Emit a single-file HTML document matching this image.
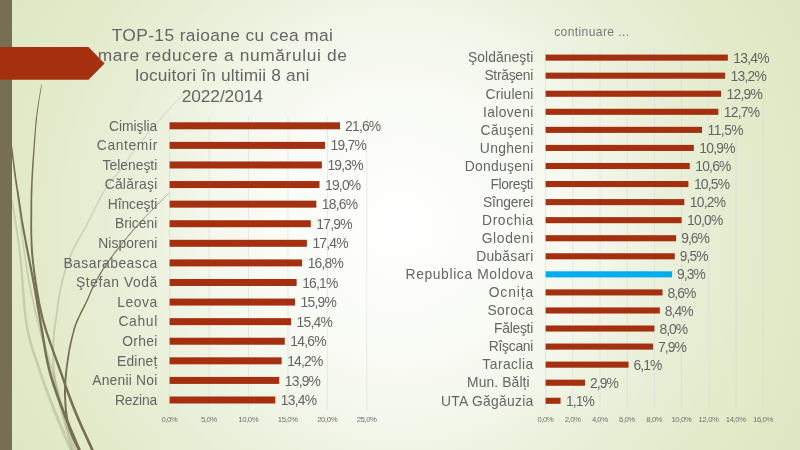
<!DOCTYPE html>
<html lang="ro"><head><meta charset="utf-8"><title>TOP-15 raioane</title>
<style>
html,body{margin:0;padding:0;}
body{width:800px;height:450px;overflow:hidden;background:#e0e8c6;}
#slide{position:absolute;left:0;top:0;width:800px;height:450px;background:radial-gradient(circle 459px at 400px 225px,#ffffff 0%,#fafcf6 26%,#f4f7ec 42.5%,#f0f4e4 49%,#e8eed6 64%,#e2eac8 83%,#dee8c5 100%);}
svg{position:absolute;left:0;top:0;font-family:"Liberation Sans","DejaVu Sans",sans-serif;}
</style></head><body>
<div id="slide">
<svg width="800" height="450" viewBox="0 0 800 450">
<path d="M185.8 90.8 L185.5 91.1 L185.3 91.4 L185.0 91.7 L184.6 92.1 L184.0 92.8 L183.1 93.7 L181.9 95.0 L180.3 96.8 L178.1 99.2 L175.3 102.2 L172.2 105.6 L168.8 109.3 L165.3 113.1 L161.8 116.9 L158.6 120.5 L155.7 123.7 L153.1 126.7 L150.6 129.6 L148.2 132.3 L146.0 135.0 L143.8 137.7 L141.6 140.3 L139.5 143.0 L137.3 145.7 L135.2 148.4 L133.2 151.2 L131.2 153.9 L129.2 156.7 L127.3 159.4 L125.4 162.2 L123.4 164.9 L121.4 167.7 L119.3 170.3 L117.2 172.8 L115.1 175.3 L112.9 177.8 L110.8 180.4 L108.6 183.2 L106.4 186.3 L104.2 189.7 L101.9 193.5 L99.6 197.8 L97.2 202.4 L94.8 207.2 L92.5 212.0 L90.2 216.5 L88.0 220.8 L86.1 224.7 L84.2 228.0 L82.5 231.0 L80.9 233.8 L79.3 236.4 L77.8 238.9 L76.4 241.4 L75.0 244.0 L73.7 246.7 L72.4 249.5 L71.2 252.3 L70.0 255.1 L68.8 257.9 L67.8 260.7 L66.7 263.5 L65.7 266.3 L64.8 269.1 L63.9 272.0 L63.1 274.8 L62.3 277.6 L61.6 280.4 L61.0 283.1 L60.3 285.9 L59.7 288.7 L59.1 291.5 L58.6 294.3 L58.1 297.0 L57.7 299.8 L57.3 302.5 L56.9 305.2 L56.6 308.0 L56.2 310.9 L55.8 313.9 L55.3 316.9 L54.9 320.0 L54.4 323.1 L53.9 326.3 L53.5 329.5 L53.1 332.9 L52.8 336.4 L52.5 339.9 L52.4 343.7 L52.2 347.5 L52.2 351.5 L52.2 355.6 L52.2 359.7 L52.4 363.8 L52.6 368.0 L53.0 372.1 L53.4 376.1 L53.9 380.0 L54.5 383.9 L55.2 387.8 L55.9 391.8 L56.8 396.0 L57.8 400.4 L58.9 405.3 L60.3 410.8 L62.0 417.2 L63.8 424.0 L65.8 430.9 L67.6 437.5 L69.4 443.6 L70.8 448.6 L71.8 452.3 L74.2 451.7 L73.1 448.0 L71.6 442.9 L69.9 436.9 L68.0 430.2 L66.0 423.4 L64.2 416.6 L62.5 410.2 L61.1 404.7 L59.9 400.0 L58.9 395.5 L58.1 391.3 L57.3 387.4 L56.6 383.5 L56.0 379.7 L55.5 375.9 L55.0 371.9 L54.7 367.8 L54.4 363.7 L54.3 359.6 L54.2 355.6 L54.2 351.5 L54.2 347.6 L54.3 343.7 L54.5 340.1 L54.7 336.5 L55.0 333.1 L55.4 329.8 L55.8 326.5 L56.3 323.4 L56.7 320.2 L57.2 317.2 L57.6 314.1 L58.0 311.2 L58.4 308.3 L58.7 305.5 L59.1 302.7 L59.5 300.0 L59.9 297.3 L60.3 294.6 L60.9 291.9 L61.4 289.1 L62.0 286.3 L62.6 283.5 L63.3 280.8 L64.0 278.0 L64.7 275.2 L65.5 272.4 L66.4 269.7 L67.3 266.9 L68.3 264.1 L69.3 261.3 L70.3 258.5 L71.4 255.7 L72.6 252.9 L73.8 250.1 L75.1 247.3 L76.4 244.7 L77.8 242.1 L79.2 239.7 L80.6 237.2 L82.2 234.6 L83.8 231.8 L85.5 228.7 L87.3 225.3 L89.3 221.5 L91.4 217.2 L93.7 212.6 L96.0 207.8 L98.4 203.0 L100.7 198.4 L103.0 194.2 L105.2 190.3 L107.4 187.0 L109.6 184.0 L111.7 181.2 L113.8 178.6 L116.0 176.1 L118.1 173.6 L120.2 171.0 L122.2 168.3 L124.3 165.6 L126.2 162.8 L128.2 160.1 L130.1 157.3 L132.0 154.6 L134.0 151.8 L136.0 149.1 L138.1 146.3 L140.2 143.6 L142.3 140.9 L144.5 138.3 L146.7 135.6 L148.9 132.9 L151.3 130.1 L153.7 127.3 L156.3 124.3 L159.2 121.0 L162.4 117.4 L165.8 113.6 L169.3 109.7 L172.7 106.0 L175.8 102.6 L178.5 99.6 L180.7 97.2 L182.3 95.4 L183.5 94.1 L184.4 93.1 L185.0 92.5 L185.4 92.1 L185.6 91.8 L185.9 91.5 L186.2 91.2Z" fill="#766F54" fill-opacity="0.24"/>
<path d="M11.1 200.1 L11.7 204.2 L12.6 209.5 L13.5 215.7 L14.6 222.7 L15.8 230.3 L16.9 238.2 L18.0 246.2 L19.0 254.1 L19.8 262.3 L20.5 271.3 L21.2 280.6 L21.9 290.1 L22.6 299.6 L23.4 308.8 L24.4 317.4 L25.5 325.2 L26.8 332.1 L28.2 338.5 L29.7 344.3 L31.3 349.7 L33.0 354.9 L34.7 360.0 L36.5 365.1 L38.2 370.4 L40.0 375.9 L41.8 381.2 L43.7 386.5 L45.7 391.8 L47.6 397.0 L49.6 402.2 L51.6 407.4 L53.6 412.6 L55.8 417.9 L58.1 423.7 L60.6 429.5 L63.0 435.2 L65.4 440.6 L67.5 445.5 L69.2 449.6 L70.5 452.6 L73.5 451.4 L72.1 448.3 L70.4 444.2 L68.2 439.4 L65.9 434.0 L63.4 428.3 L60.9 422.5 L58.6 416.8 L56.4 411.4 L54.3 406.3 L52.3 401.2 L50.3 396.0 L48.3 390.8 L46.4 385.6 L44.5 380.3 L42.6 375.0 L40.8 369.6 L39.0 364.3 L37.2 359.1 L35.5 354.1 L33.8 348.9 L32.2 343.6 L30.6 337.8 L29.2 331.6 L27.9 324.8 L26.8 317.1 L25.8 308.6 L25.0 299.4 L24.2 290.0 L23.5 280.4 L22.7 271.1 L21.9 262.1 L21.0 253.9 L20.0 245.9 L18.9 237.9 L17.7 230.0 L16.5 222.4 L15.4 215.4 L14.4 209.2 L13.5 203.9 L12.9 199.9Z" fill="#766F54" fill-opacity="0.24"/>
<path d="M16.5 190.1 L17.0 194.8 L17.7 201.3 L18.6 209.0 L19.5 217.6 L20.5 226.4 L21.4 235.1 L22.4 243.1 L23.3 250.1 L24.1 256.1 L24.9 261.5 L25.6 266.6 L26.4 271.4 L27.2 276.0 L28.0 280.6 L28.9 285.3 L29.8 290.2 L30.8 295.2 L31.9 300.2 L33.0 305.2 L34.1 310.2 L35.3 315.2 L36.5 320.2 L37.7 325.3 L39.0 330.3 L40.3 335.2 L41.7 340.0 L43.1 344.7 L44.6 349.4 L46.1 354.2 L47.6 359.3 L49.2 364.6 L50.9 370.3 L52.6 376.7 L54.5 383.7 L56.4 391.1 L58.4 398.6 L60.4 406.1 L62.3 413.2 L64.1 419.7 L65.7 425.4 L67.1 430.3 L68.5 434.8 L69.8 438.8 L71.1 442.4 L72.2 445.6 L73.1 448.3 L73.9 450.6 L74.6 452.5 L77.4 451.5 L76.8 449.6 L75.9 447.3 L74.9 444.6 L73.8 441.5 L72.6 437.9 L71.2 433.9 L69.8 429.5 L68.3 424.6 L66.7 419.0 L64.9 412.5 L63.0 405.4 L60.9 398.0 L58.9 390.4 L56.9 383.0 L54.9 376.0 L53.1 369.7 L51.5 364.0 L49.8 358.6 L48.2 353.6 L46.7 348.7 L45.2 344.0 L43.8 339.3 L42.4 334.6 L41.0 329.7 L39.7 324.7 L38.4 319.8 L37.1 314.8 L35.9 309.8 L34.8 304.8 L33.7 299.8 L32.6 294.8 L31.6 289.8 L30.6 285.0 L29.7 280.3 L28.8 275.7 L28.0 271.1 L27.2 266.3 L26.4 261.3 L25.6 255.9 L24.7 249.9 L23.8 243.0 L22.8 234.9 L21.7 226.3 L20.7 217.4 L19.7 208.9 L18.8 201.2 L18.1 194.7 L17.5 189.9Z" fill="#766F54" fill-opacity="0.24"/>
<path d="M41.5 84.0 L41.0 86.4 L40.4 89.5 L39.7 93.2 L39.0 97.4 L38.2 101.9 L37.5 106.6 L36.8 111.3 L36.2 115.9 L35.6 120.7 L35.2 125.7 L34.7 130.9 L34.3 136.3 L33.9 141.6 L33.5 146.7 L33.1 151.5 L32.8 156.0 L32.5 159.9 L32.2 163.6 L32.0 167.0 L31.8 170.3 L31.6 173.4 L31.4 176.5 L31.3 179.7 L31.1 183.0 L31.0 186.3 L30.8 189.4 L30.7 192.5 L30.6 195.7 L30.6 198.9 L30.5 202.3 L30.5 206.0 L30.4 210.0 L30.4 214.4 L30.4 219.1 L30.3 224.0 L30.3 229.2 L30.4 234.4 L30.5 239.7 L30.7 245.0 L30.9 250.1 L31.3 255.1 L31.8 260.2 L32.4 265.3 L33.0 270.4 L33.6 275.5 L34.4 280.5 L35.1 285.4 L35.9 290.2 L36.6 294.7 L37.4 299.1 L38.1 303.3 L38.9 307.4 L39.8 311.6 L40.8 315.9 L42.0 320.5 L43.3 325.3 L44.9 330.5 L46.7 336.0 L48.6 341.7 L50.7 347.6 L52.8 353.5 L54.9 359.3 L56.9 365.0 L58.9 370.4 L60.7 375.6 L62.5 380.7 L64.2 385.7 L65.9 390.6 L67.7 395.5 L69.5 400.4 L71.4 405.4 L73.4 410.5 L75.7 415.9 L78.2 421.9 L80.9 428.0 L83.7 434.0 L86.3 439.8 L88.6 445.0 L90.6 449.3 L92.1 452.6 L94.5 451.4 L93.1 448.2 L91.1 443.8 L88.7 438.7 L86.1 433.0 L83.3 426.9 L80.6 420.8 L78.1 414.9 L75.8 409.5 L73.8 404.5 L71.9 399.5 L70.0 394.6 L68.3 389.8 L66.5 384.9 L64.8 379.9 L63.0 374.8 L61.1 369.6 L59.2 364.1 L57.1 358.5 L55.0 352.7 L52.9 346.8 L50.8 341.0 L48.8 335.3 L47.0 329.8 L45.5 324.7 L44.1 319.9 L43.0 315.4 L42.0 311.1 L41.1 307.0 L40.2 302.9 L39.5 298.7 L38.7 294.4 L37.9 289.8 L37.2 285.1 L36.4 280.2 L35.7 275.2 L35.0 270.2 L34.3 265.1 L33.8 260.0 L33.3 254.9 L32.9 249.9 L32.6 244.9 L32.4 239.7 L32.2 234.4 L32.2 229.2 L32.1 224.0 L32.2 219.1 L32.2 214.4 L32.2 210.0 L32.2 206.0 L32.2 202.3 L32.2 198.9 L32.3 195.7 L32.4 192.6 L32.5 189.5 L32.6 186.3 L32.7 183.0 L32.8 179.7 L33.0 176.6 L33.1 173.5 L33.3 170.4 L33.5 167.1 L33.7 163.7 L33.9 160.0 L34.2 156.0 L34.5 151.6 L34.8 146.8 L35.2 141.6 L35.5 136.4 L35.9 131.0 L36.3 125.8 L36.8 120.8 L37.2 116.1 L37.8 111.5 L38.4 106.8 L39.1 102.1 L39.8 97.6 L40.5 93.4 L41.1 89.6 L41.6 86.5 L41.9 84.0Z" fill="#766F54" fill-opacity="1"/>
<path d="M10.9 146.1 L11.1 148.6 L11.5 152.2 L12.0 156.4 L12.6 161.0 L13.1 165.7 L13.7 170.3 L14.2 174.6 L14.7 178.1 L15.1 181.1 L15.4 183.7 L15.8 186.1 L16.2 188.3 L16.5 190.3 L16.8 192.3 L17.1 194.2 L17.4 196.1 L17.7 198.1 L18.0 199.9 L18.2 201.6 L18.5 203.3 L18.7 205.0 L19.0 206.7 L19.2 208.4 L19.5 210.1 L19.7 211.9 L20.0 213.6 L20.2 215.2 L20.4 217.0 L20.7 218.7 L21.0 220.7 L21.3 222.8 L21.7 225.2 L22.2 227.7 L22.6 230.4 L23.1 233.2 L23.7 236.1 L24.3 239.3 L24.9 242.6 L25.5 246.3 L26.3 250.2 L27.1 254.5 L28.0 259.2 L29.0 264.2 L30.0 269.4 L31.0 274.7 L32.0 280.0 L33.0 285.2 L33.9 290.2 L34.7 295.0 L35.6 299.7 L36.3 304.4 L37.1 309.1 L37.9 313.7 L38.7 318.5 L39.5 323.3 L40.3 328.2 L41.2 333.3 L42.0 338.5 L42.9 343.7 L43.7 349.1 L44.7 354.4 L45.7 359.8 L46.8 365.1 L48.1 370.3 L49.5 375.4 L51.0 380.5 L52.5 385.5 L54.2 390.4 L56.0 395.4 L57.8 400.4 L59.6 405.4 L61.6 410.5 L63.7 415.9 L66.1 421.9 L68.6 428.0 L71.1 434.0 L73.6 439.8 L75.8 445.0 L77.6 449.3 L79.0 452.5 L81.6 451.5 L80.2 448.2 L78.3 443.9 L76.1 438.7 L73.7 433.0 L71.1 426.9 L68.6 420.8 L66.2 414.9 L64.0 409.5 L62.1 404.5 L60.2 399.4 L58.4 394.5 L56.7 389.6 L55.0 384.7 L53.4 379.7 L51.9 374.7 L50.5 369.7 L49.3 364.5 L48.1 359.3 L47.1 354.0 L46.2 348.7 L45.3 343.3 L44.4 338.1 L43.6 332.9 L42.7 327.8 L41.8 322.9 L41.0 318.1 L40.2 313.4 L39.4 308.7 L38.6 304.0 L37.8 299.4 L37.0 294.6 L36.1 289.8 L35.2 284.8 L34.2 279.6 L33.1 274.3 L32.1 269.0 L31.1 263.8 L30.1 258.8 L29.2 254.1 L28.3 249.8 L27.6 245.9 L26.9 242.3 L26.2 238.9 L25.7 235.8 L25.1 232.8 L24.6 230.0 L24.1 227.4 L23.7 224.8 L23.3 222.5 L22.9 220.4 L22.6 218.5 L22.3 216.7 L22.1 215.0 L21.8 213.3 L21.6 211.6 L21.3 209.9 L21.1 208.1 L20.8 206.4 L20.5 204.7 L20.3 203.1 L20.0 201.4 L19.8 199.6 L19.5 197.8 L19.2 195.9 L18.9 193.9 L18.6 192.0 L18.2 190.0 L17.9 188.0 L17.5 185.8 L17.2 183.4 L16.8 180.8 L16.3 177.9 L15.9 174.3 L15.3 170.1 L14.7 165.5 L14.1 160.8 L13.5 156.2 L13.0 152.0 L12.5 148.5 L12.1 145.9Z" fill="#766F54" fill-opacity="1"/>
<path d="M169.9 191.9 L168.9 192.9 L167.7 194.1 L166.2 195.6 L164.5 197.2 L162.7 199.0 L160.8 200.9 L158.8 202.8 L156.8 204.8 L154.8 206.9 L152.6 209.1 L150.3 211.4 L148.0 213.7 L145.6 216.2 L143.2 218.7 L140.8 221.2 L138.4 223.8 L136.1 226.4 L133.7 229.1 L131.3 231.8 L128.9 234.6 L126.5 237.4 L124.1 240.2 L121.8 243.0 L119.6 245.7 L117.5 248.4 L115.4 251.1 L113.4 253.7 L111.4 256.4 L109.4 259.0 L107.5 261.6 L105.7 264.1 L104.0 266.7 L102.4 269.2 L100.8 271.7 L99.3 274.3 L97.9 276.7 L96.5 279.2 L95.2 281.6 L94.0 283.9 L92.8 286.1 L91.7 288.2 L90.8 290.3 L89.9 292.3 L89.1 294.2 L88.3 296.1 L87.5 297.9 L86.7 299.8 L85.8 301.7 L84.8 303.7 L83.8 305.6 L82.8 307.6 L81.8 309.6 L80.7 311.6 L79.8 313.5 L78.8 315.4 L78.0 317.2 L77.3 318.8 L76.6 320.2 L76.0 321.6 L75.5 322.9 L75.0 324.3 L74.4 325.8 L73.9 327.6 L73.2 329.8 L72.6 332.3 L71.9 334.9 L71.1 337.8 L70.4 340.9 L69.6 344.2 L68.9 347.6 L68.3 351.2 L67.6 354.9 L67.0 358.8 L66.4 362.9 L65.8 367.3 L65.3 371.8 L64.8 376.3 L64.4 381.0 L64.1 385.5 L64.0 390.0 L64.0 394.4 L64.2 399.0 L64.4 403.5 L64.7 408.1 L65.1 412.6 L65.7 417.0 L66.4 421.2 L67.3 425.3 L68.4 429.3 L69.9 433.3 L71.6 437.3 L73.4 441.2 L75.1 444.7 L76.7 447.9 L78.0 450.5 L79.0 452.5 L81.0 451.5 L80.1 449.5 L78.7 446.8 L77.1 443.7 L75.4 440.2 L73.6 436.4 L71.9 432.5 L70.5 428.6 L69.3 424.7 L68.5 420.8 L67.8 416.7 L67.2 412.3 L66.7 407.9 L66.4 403.4 L66.1 398.9 L66.0 394.4 L66.0 390.0 L66.1 385.6 L66.3 381.1 L66.7 376.5 L67.1 372.0 L67.6 367.5 L68.2 363.2 L68.8 359.0 L69.4 355.1 L69.9 351.5 L70.6 347.9 L71.3 344.5 L72.0 341.3 L72.7 338.2 L73.4 335.3 L74.1 332.7 L74.8 330.2 L75.4 328.1 L75.9 326.3 L76.4 324.8 L76.9 323.4 L77.5 322.2 L78.0 320.9 L78.7 319.4 L79.4 317.8 L80.2 316.0 L81.1 314.2 L82.1 312.2 L83.1 310.3 L84.1 308.3 L85.1 306.3 L86.1 304.3 L87.0 302.3 L87.9 300.4 L88.7 298.5 L89.5 296.6 L90.3 294.7 L91.1 292.8 L92.0 290.8 L92.9 288.8 L94.0 286.7 L95.1 284.5 L96.3 282.1 L97.6 279.8 L98.9 277.3 L100.4 274.9 L101.8 272.4 L103.4 269.8 L105.0 267.3 L106.7 264.8 L108.4 262.2 L110.3 259.6 L112.2 257.0 L114.2 254.3 L116.2 251.7 L118.3 249.0 L120.4 246.3 L122.5 243.6 L124.8 240.8 L127.1 238.0 L129.5 235.1 L131.9 232.3 L134.3 229.6 L136.6 226.9 L139.0 224.2 L141.3 221.7 L143.7 219.1 L146.0 216.6 L148.4 214.1 L150.7 211.7 L153.0 209.4 L155.1 207.2 L157.2 205.2 L159.1 203.2 L161.1 201.2 L163.0 199.2 L164.8 197.4 L166.4 195.8 L167.9 194.3 L169.1 193.0 L170.1 192.1Z" fill="#766F54" fill-opacity="1"/>
<rect x="0" y="0" width="12" height="450" fill="#766F54"/>
<path d="M0 46.9 H88.5 L104.6 63.4 L88.5 79.8 H0 Z" fill="#A53010"/>
<text x="222.30" y="40.50" font-size="17.34" text-anchor="middle" fill="#656565" textLength="221.26" lengthAdjust="spacing">TOP-15 raioane cu cea mai</text>
<text x="222.30" y="60.90" font-size="17.34" text-anchor="middle" fill="#656565" textLength="249.15" lengthAdjust="spacing">mare reducere a numărului de</text>
<text x="222.30" y="81.30" font-size="17.34" text-anchor="middle" fill="#656565" textLength="174.28" lengthAdjust="spacing">locuitori în ultimii 8 ani</text>
<text x="222.30" y="101.70" font-size="17.34" text-anchor="middle" fill="#656565" textLength="81.17" lengthAdjust="spacing">2022/2014</text>
<text x="554.20" y="36.00" font-size="12.14" text-anchor="start" fill="#7a7a7a" textLength="74.82" lengthAdjust="spacing">continuare ...</text>
<line x1="169.60" y1="116.00" x2="169.60" y2="409.79" stroke="#dadada" stroke-width="0.6"/>
<text x="169.60" y="422.10" font-size="7.80" text-anchor="middle" fill="#707070" textLength="16.20" lengthAdjust="spacing">0,0%</text>
<line x1="209.05" y1="116.00" x2="209.05" y2="409.79" stroke="#dadada" stroke-width="0.6"/>
<text x="209.05" y="422.10" font-size="7.80" text-anchor="middle" fill="#707070" textLength="16.20" lengthAdjust="spacing">5,0%</text>
<line x1="248.50" y1="116.00" x2="248.50" y2="409.79" stroke="#dadada" stroke-width="0.6"/>
<text x="248.50" y="422.10" font-size="7.80" text-anchor="middle" fill="#707070" textLength="20.36" lengthAdjust="spacing">10,0%</text>
<line x1="287.95" y1="116.00" x2="287.95" y2="409.79" stroke="#dadada" stroke-width="0.6"/>
<text x="287.95" y="422.10" font-size="7.80" text-anchor="middle" fill="#707070" textLength="20.36" lengthAdjust="spacing">15,0%</text>
<line x1="327.40" y1="116.00" x2="327.40" y2="409.79" stroke="#dadada" stroke-width="0.6"/>
<text x="327.40" y="422.10" font-size="7.80" text-anchor="middle" fill="#707070" textLength="20.36" lengthAdjust="spacing">20,0%</text>
<line x1="366.85" y1="116.00" x2="366.85" y2="409.79" stroke="#dadada" stroke-width="0.6"/>
<text x="366.85" y="422.10" font-size="7.80" text-anchor="middle" fill="#707070" textLength="20.36" lengthAdjust="spacing">25,0%</text>
<rect x="169.60" y="122.29" width="170.42" height="7.00" fill="#A53010"/>
<text x="157.30" y="130.54" font-size="13.86" text-anchor="end" fill="#656565" textLength="48.28" lengthAdjust="spacing">Cimişlia</text>
<text x="345.02" y="130.89" font-size="13.86" text-anchor="start" fill="#656565" textLength="36.18" lengthAdjust="spacing">21,6%</text>
<rect x="169.60" y="141.88" width="155.43" height="7.00" fill="#A53010"/>
<text x="157.30" y="150.13" font-size="13.86" text-anchor="end" fill="#656565" textLength="60.44" lengthAdjust="spacing">Cantemir</text>
<text x="330.53" y="150.48" font-size="13.86" text-anchor="start" fill="#656565" textLength="36.18" lengthAdjust="spacing">19,7%</text>
<rect x="169.60" y="161.47" width="152.28" height="7.00" fill="#A53010"/>
<text x="157.30" y="169.72" font-size="13.86" text-anchor="end" fill="#656565" textLength="54.83" lengthAdjust="spacing">Teleneşti</text>
<text x="327.38" y="170.06" font-size="13.86" text-anchor="start" fill="#656565" textLength="36.18" lengthAdjust="spacing">19,3%</text>
<rect x="169.60" y="181.05" width="149.91" height="7.00" fill="#A53010"/>
<text x="157.30" y="189.30" font-size="13.86" text-anchor="end" fill="#656565" textLength="52.67" lengthAdjust="spacing">Călăraşi</text>
<text x="325.01" y="189.65" font-size="13.86" text-anchor="start" fill="#656565" textLength="36.18" lengthAdjust="spacing">19,0%</text>
<rect x="169.60" y="200.64" width="146.75" height="7.00" fill="#A53010"/>
<text x="157.30" y="208.89" font-size="13.86" text-anchor="end" fill="#656565" textLength="49.55" lengthAdjust="spacing">Hînceşti</text>
<text x="321.85" y="209.24" font-size="13.86" text-anchor="start" fill="#656565" textLength="36.18" lengthAdjust="spacing">18,6%</text>
<rect x="169.60" y="220.22" width="141.23" height="7.00" fill="#A53010"/>
<text x="157.30" y="228.47" font-size="13.86" text-anchor="end" fill="#656565" textLength="42.42" lengthAdjust="spacing">Briceni</text>
<text x="316.33" y="228.82" font-size="13.86" text-anchor="start" fill="#656565" textLength="36.18" lengthAdjust="spacing">17,9%</text>
<rect x="169.60" y="239.81" width="137.29" height="7.00" fill="#A53010"/>
<text x="157.30" y="248.06" font-size="13.86" text-anchor="end" fill="#656565" textLength="59.00" lengthAdjust="spacing">Nisporeni</text>
<text x="312.39" y="248.41" font-size="13.86" text-anchor="start" fill="#656565" textLength="36.18" lengthAdjust="spacing">17,4%</text>
<rect x="169.60" y="259.39" width="132.55" height="7.00" fill="#A53010"/>
<text x="157.30" y="267.64" font-size="13.86" text-anchor="end" fill="#656565" textLength="93.91" lengthAdjust="spacing">Basarabeasca</text>
<text x="307.65" y="268.00" font-size="13.86" text-anchor="start" fill="#656565" textLength="36.18" lengthAdjust="spacing">16,8%</text>
<rect x="169.60" y="278.98" width="127.03" height="7.00" fill="#A53010"/>
<text x="157.30" y="287.23" font-size="13.86" text-anchor="end" fill="#656565" textLength="81.26" lengthAdjust="spacing">Ştefan Vodă</text>
<text x="302.13" y="287.58" font-size="13.86" text-anchor="start" fill="#656565" textLength="36.18" lengthAdjust="spacing">16,1%</text>
<rect x="169.60" y="298.57" width="125.45" height="7.00" fill="#A53010"/>
<text x="157.30" y="306.82" font-size="13.86" text-anchor="end" fill="#656565" textLength="40.04" lengthAdjust="spacing">Leova</text>
<text x="300.55" y="307.17" font-size="13.86" text-anchor="start" fill="#656565" textLength="36.18" lengthAdjust="spacing">15,9%</text>
<rect x="169.60" y="318.15" width="121.51" height="7.00" fill="#A53010"/>
<text x="157.30" y="326.40" font-size="13.86" text-anchor="end" fill="#656565" textLength="38.84" lengthAdjust="spacing">Cahul</text>
<text x="296.61" y="326.75" font-size="13.86" text-anchor="start" fill="#656565" textLength="36.18" lengthAdjust="spacing">15,4%</text>
<rect x="169.60" y="337.74" width="115.19" height="7.00" fill="#A53010"/>
<text x="157.30" y="345.99" font-size="13.86" text-anchor="end" fill="#656565" textLength="35.06" lengthAdjust="spacing">Orhei</text>
<text x="290.29" y="346.34" font-size="13.86" text-anchor="start" fill="#656565" textLength="36.18" lengthAdjust="spacing">14,6%</text>
<rect x="169.60" y="357.32" width="112.04" height="7.00" fill="#A53010"/>
<text x="157.30" y="365.57" font-size="13.86" text-anchor="end" fill="#656565" textLength="40.26" lengthAdjust="spacing">Edineț</text>
<text x="287.14" y="365.93" font-size="13.86" text-anchor="start" fill="#656565" textLength="36.18" lengthAdjust="spacing">14,2%</text>
<rect x="169.60" y="376.91" width="109.67" height="7.00" fill="#A53010"/>
<text x="157.30" y="385.16" font-size="13.86" text-anchor="end" fill="#656565" textLength="65.08" lengthAdjust="spacing">Anenii Noi</text>
<text x="284.77" y="385.51" font-size="13.86" text-anchor="start" fill="#656565" textLength="36.18" lengthAdjust="spacing">13,9%</text>
<rect x="169.60" y="396.50" width="105.73" height="7.00" fill="#A53010"/>
<text x="157.30" y="404.75" font-size="13.86" text-anchor="end" fill="#656565" textLength="42.32" lengthAdjust="spacing">Rezina</text>
<text x="280.83" y="405.10" font-size="13.86" text-anchor="start" fill="#656565" textLength="36.18" lengthAdjust="spacing">13,4%</text>
<line x1="545.60" y1="48.60" x2="545.60" y2="409.80" stroke="#dadada" stroke-width="0.6"/>
<text x="545.60" y="422.10" font-size="7.80" text-anchor="middle" fill="#707070" textLength="16.20" lengthAdjust="spacing">0,0%</text>
<line x1="572.80" y1="48.60" x2="572.80" y2="409.80" stroke="#dadada" stroke-width="0.6"/>
<text x="572.80" y="422.10" font-size="7.80" text-anchor="middle" fill="#707070" textLength="16.20" lengthAdjust="spacing">2,0%</text>
<line x1="600.00" y1="48.60" x2="600.00" y2="409.80" stroke="#dadada" stroke-width="0.6"/>
<text x="600.00" y="422.10" font-size="7.80" text-anchor="middle" fill="#707070" textLength="16.20" lengthAdjust="spacing">4,0%</text>
<line x1="627.20" y1="48.60" x2="627.20" y2="409.80" stroke="#dadada" stroke-width="0.6"/>
<text x="627.20" y="422.10" font-size="7.80" text-anchor="middle" fill="#707070" textLength="16.20" lengthAdjust="spacing">6,0%</text>
<line x1="654.40" y1="48.60" x2="654.40" y2="409.80" stroke="#dadada" stroke-width="0.6"/>
<text x="654.40" y="422.10" font-size="7.80" text-anchor="middle" fill="#707070" textLength="16.20" lengthAdjust="spacing">8,0%</text>
<line x1="681.60" y1="48.60" x2="681.60" y2="409.80" stroke="#dadada" stroke-width="0.6"/>
<text x="681.60" y="422.10" font-size="7.80" text-anchor="middle" fill="#707070" textLength="20.36" lengthAdjust="spacing">10,0%</text>
<line x1="708.80" y1="48.60" x2="708.80" y2="409.80" stroke="#dadada" stroke-width="0.6"/>
<text x="708.80" y="422.10" font-size="7.80" text-anchor="middle" fill="#707070" textLength="20.36" lengthAdjust="spacing">12,0%</text>
<line x1="736.00" y1="48.60" x2="736.00" y2="409.80" stroke="#dadada" stroke-width="0.6"/>
<text x="736.00" y="422.10" font-size="7.80" text-anchor="middle" fill="#707070" textLength="20.36" lengthAdjust="spacing">14,0%</text>
<line x1="763.20" y1="48.60" x2="763.20" y2="409.80" stroke="#dadada" stroke-width="0.6"/>
<text x="763.20" y="422.10" font-size="7.80" text-anchor="middle" fill="#707070" textLength="20.36" lengthAdjust="spacing">16,0%</text>
<rect x="545.60" y="54.58" width="182.24" height="6.10" fill="#A53010"/>
<text x="533.30" y="62.38" font-size="13.86" text-anchor="end" fill="#656565" textLength="65.42" lengthAdjust="spacing">Şoldăneşti</text>
<text x="733.34" y="62.73" font-size="13.86" text-anchor="start" fill="#656565" textLength="36.18" lengthAdjust="spacing">13,4%</text>
<rect x="545.60" y="72.64" width="179.52" height="6.10" fill="#A53010"/>
<text x="533.30" y="80.44" font-size="13.86" text-anchor="end" fill="#656565" textLength="48.91" lengthAdjust="spacing">Străşeni</text>
<text x="730.62" y="80.79" font-size="13.86" text-anchor="start" fill="#656565" textLength="36.18" lengthAdjust="spacing">13,2%</text>
<rect x="545.60" y="90.70" width="175.44" height="6.10" fill="#A53010"/>
<text x="533.30" y="98.50" font-size="13.86" text-anchor="end" fill="#656565" textLength="47.75" lengthAdjust="spacing">Criuleni</text>
<text x="726.54" y="98.85" font-size="13.86" text-anchor="start" fill="#656565" textLength="36.18" lengthAdjust="spacing">12,9%</text>
<rect x="545.60" y="108.76" width="172.72" height="6.10" fill="#A53010"/>
<text x="533.30" y="116.56" font-size="13.86" text-anchor="end" fill="#656565" textLength="50.36" lengthAdjust="spacing">Ialoveni</text>
<text x="723.82" y="116.91" font-size="13.86" text-anchor="start" fill="#656565" textLength="36.18" lengthAdjust="spacing">12,7%</text>
<rect x="545.60" y="126.82" width="156.40" height="6.10" fill="#A53010"/>
<text x="533.30" y="134.62" font-size="13.86" text-anchor="end" fill="#656565" textLength="52.68" lengthAdjust="spacing">Căuşeni</text>
<text x="707.50" y="134.97" font-size="13.86" text-anchor="start" fill="#656565" textLength="36.18" lengthAdjust="spacing">11,5%</text>
<rect x="545.60" y="144.88" width="148.24" height="6.10" fill="#A53010"/>
<text x="533.30" y="152.68" font-size="13.86" text-anchor="end" fill="#656565" textLength="53.43" lengthAdjust="spacing">Ungheni</text>
<text x="699.34" y="153.03" font-size="13.86" text-anchor="start" fill="#656565" textLength="36.18" lengthAdjust="spacing">10,9%</text>
<rect x="545.60" y="162.94" width="144.16" height="6.10" fill="#A53010"/>
<text x="533.30" y="170.74" font-size="13.86" text-anchor="end" fill="#656565" textLength="68.65" lengthAdjust="spacing">Donduşeni</text>
<text x="695.26" y="171.09" font-size="13.86" text-anchor="start" fill="#656565" textLength="36.18" lengthAdjust="spacing">10,6%</text>
<rect x="545.60" y="181.00" width="142.80" height="6.10" fill="#A53010"/>
<text x="533.30" y="188.80" font-size="13.86" text-anchor="end" fill="#656565" textLength="42.90" lengthAdjust="spacing">Floreşti</text>
<text x="693.90" y="189.15" font-size="13.86" text-anchor="start" fill="#656565" textLength="36.18" lengthAdjust="spacing">10,5%</text>
<rect x="545.60" y="199.06" width="138.72" height="6.10" fill="#A53010"/>
<text x="533.30" y="206.86" font-size="13.86" text-anchor="end" fill="#656565" textLength="50.41" lengthAdjust="spacing">Sîngerei</text>
<text x="689.82" y="207.21" font-size="13.86" text-anchor="start" fill="#656565" textLength="36.18" lengthAdjust="spacing">10,2%</text>
<rect x="545.60" y="217.12" width="136.00" height="6.10" fill="#A53010"/>
<text x="533.30" y="224.92" font-size="13.86" text-anchor="end" fill="#656565" textLength="51.19" lengthAdjust="spacing">Drochia</text>
<text x="687.10" y="225.27" font-size="13.86" text-anchor="start" fill="#656565" textLength="36.18" lengthAdjust="spacing">10,0%</text>
<rect x="545.60" y="235.18" width="130.56" height="6.10" fill="#A53010"/>
<text x="533.30" y="242.98" font-size="13.86" text-anchor="end" fill="#656565" textLength="51.61" lengthAdjust="spacing">Glodeni</text>
<text x="681.16" y="243.33" font-size="13.86" text-anchor="start" fill="#656565" textLength="28.79" lengthAdjust="spacing">9,6%</text>
<rect x="545.60" y="253.24" width="129.20" height="6.10" fill="#A53010"/>
<text x="533.30" y="261.04" font-size="13.86" text-anchor="end" fill="#656565" textLength="57.17" lengthAdjust="spacing">Dubăsari</text>
<text x="679.80" y="261.39" font-size="13.86" text-anchor="start" fill="#656565" textLength="28.79" lengthAdjust="spacing">9,5%</text>
<rect x="545.60" y="271.30" width="126.48" height="6.10" fill="#00AEEF"/>
<text x="533.30" y="279.10" font-size="13.86" text-anchor="end" fill="#656565" textLength="127.79" lengthAdjust="spacing">Republica Moldova</text>
<text x="677.08" y="279.45" font-size="13.86" text-anchor="start" fill="#656565" textLength="28.79" lengthAdjust="spacing">9,3%</text>
<rect x="545.60" y="289.36" width="116.96" height="6.10" fill="#A53010"/>
<text x="533.30" y="297.16" font-size="13.86" text-anchor="end" fill="#656565" textLength="44.63" lengthAdjust="spacing">Ocnița</text>
<text x="667.56" y="297.51" font-size="13.86" text-anchor="start" fill="#656565" textLength="28.79" lengthAdjust="spacing">8,6%</text>
<rect x="545.60" y="307.42" width="114.24" height="6.10" fill="#A53010"/>
<text x="533.30" y="315.22" font-size="13.86" text-anchor="end" fill="#656565" textLength="45.84" lengthAdjust="spacing">Soroca</text>
<text x="664.84" y="315.57" font-size="13.86" text-anchor="start" fill="#656565" textLength="28.79" lengthAdjust="spacing">8,4%</text>
<rect x="545.60" y="325.48" width="108.80" height="6.10" fill="#A53010"/>
<text x="533.30" y="333.28" font-size="13.86" text-anchor="end" fill="#656565" textLength="39.26" lengthAdjust="spacing">Făleşti</text>
<text x="659.40" y="333.63" font-size="13.86" text-anchor="start" fill="#656565" textLength="28.79" lengthAdjust="spacing">8,0%</text>
<rect x="545.60" y="343.54" width="107.44" height="6.10" fill="#A53010"/>
<text x="533.30" y="351.34" font-size="13.86" text-anchor="end" fill="#656565" textLength="44.46" lengthAdjust="spacing">Rîşcani</text>
<text x="658.04" y="351.69" font-size="13.86" text-anchor="start" fill="#656565" textLength="28.79" lengthAdjust="spacing">7,9%</text>
<rect x="545.60" y="361.60" width="82.96" height="6.10" fill="#A53010"/>
<text x="533.30" y="369.40" font-size="13.86" text-anchor="end" fill="#656565" textLength="50.96" lengthAdjust="spacing">Taraclia</text>
<text x="633.56" y="369.75" font-size="13.86" text-anchor="start" fill="#656565" textLength="28.79" lengthAdjust="spacing">6,1%</text>
<rect x="545.60" y="379.66" width="39.44" height="6.10" fill="#A53010"/>
<text x="529.60" y="387.46" font-size="13.86" text-anchor="end" fill="#656565" textLength="62.48" lengthAdjust="spacing">Mun. Bălți</text>
<text x="590.04" y="387.81" font-size="13.86" text-anchor="start" fill="#656565" textLength="28.79" lengthAdjust="spacing">2,9%</text>
<rect x="545.60" y="397.72" width="14.96" height="6.10" fill="#A53010"/>
<text x="533.30" y="405.52" font-size="13.86" text-anchor="end" fill="#656565" textLength="92.31" lengthAdjust="spacing">UTA Găgăuzia</text>
<text x="566.06" y="405.87" font-size="13.86" text-anchor="start" fill="#656565" textLength="28.79" lengthAdjust="spacing">1,1%</text>
</svg>
</div>
</body></html>
